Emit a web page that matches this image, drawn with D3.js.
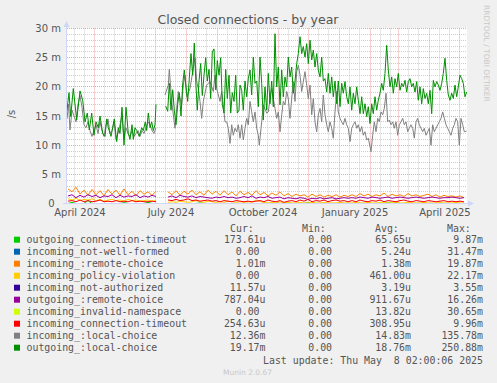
<!DOCTYPE html>
<html><head><meta charset="utf-8">
<script src="https://cdn.jsdelivr.net/npm/d3@7"></script>
<style>
html,body{margin:0;padding:0;background:#F0F0F0;}
svg{display:block;}
</style></head><body>
<svg id="c" width="497" height="383"></svg>
<script>
// ---------------- data ----------------
const chartTitle = "Closed connections - by year";
const yAxisLabel = "/s";
const yTickValues = [0, 5, 10, 15, 20, 25, 30];
const yTickLabels = ["0", "5 m", "10 m", "15 m", "20 m", "25 m", "30 m"];
const xTickMonths = ["2024-04-01", "2024-07-01", "2024-10-01", "2025-01-01", "2025-04-01"];
const xTickLabels = ["April 2024", "July 2024", "October 2024", "January 2025", "April 2025"];

const legendNames = [
  "outgoing_connection-timeout", "incoming_not-well-formed", "incoming_:remote-choice",
  "incoming_policy-violation", "incoming_not-authorized", "outgoing_:remote-choice",
  "incoming_invalid-namespace", "incoming_connection-timeout", "incoming_:local-choice",
  "outgoing_:local-choice"];
const legendColors = ["#00CC00", "#0066B3", "#FF8000", "#FFCC00", "#330099", "#990099",
  "#CCFF00", "#FF0000", "#808080", "#008F00"];
const curVals = ["173.61u", "0.00", "1.01m", "0.00", "11.57u", "787.04u", "0.00", "254.63u", "12.36m", "19.17m"];
const minVals = ["0.00", "0.00", "0.00", "0.00", "0.00", "0.00", "0.00", "0.00", "0.00", "0.00"];
const avgVals = ["65.65u", "5.24u", "1.38m", "461.00u", "3.19u", "911.67u", "13.82u", "308.95u", "14.83m", "18.76m"];
const maxVals = ["9.87m", "31.47m", "19.87m", "22.17m", "3.55m", "16.26m", "30.65m", "9.96m", "135.78m", "250.88m"];
const lastUpdate = "Last update: Thu May  8 02:00:06 2025";

// small series: one value every 4 days (milli-connections/s), null = no data
const outConnTimeout = [0,0.2,0,0,0,0.5,0,0,0,0,0,0,0,0,0.15,0,0,0,0,0,0.2,0,0,null,null,0,0,0,0,0,0,0,0,0.1,0,0,0,0,0,0,0,0,0,0,0,0,0,0,0,0,0,0,0,0,0,0,0,0,0,0,0.15,0,0,0,0,0,0,0,0,0,0,0,0,0,0,0,0,0,0,0,0.2,0,0.15,0,0,0,0,0,0,0,0,0,0,0,0,0,0,0,0,0];
const inNotWellFormed = [0,0,0,0,0,0,0,0,0,0,0,0,0,0,0,0,0,0,0,0,0,0,0,null,null,0,0,0,0,0,0,0,0,0,0,0,0,0,0,0,0,0,0,0,0,0,0,0,0,0,0,0,0,0,0,0,0,0,0,0,0,0,0,0,0,0,0,0,0,0,0,0,0,0,0,0,0,0,0,0,0,0,0,0,0,0,0,0,0,0,0,0,0,0,0,0,0,0,0,0];
const inRemoteChoice = [2.5,2.0,2.8,1.6,2.3,1.4,2.4,1.5,2.2,1.3,2.4,1.6,2.3,1.4,2.5,1.5,2.1,1.3,2.2,1.6,2.0,1.4,2.1,null,null,
  2.0,1.5,2.2,1.4,2.1,1.6,2.3,1.5,2.0,1.4,2.3,1.6,2.1,1.4,2.2,1.5,2.0,1.3,2.1,1.5,1.9,
  1.4,2.2,1.5,1.9,1.3,1.8,1.4,2.0,1.3,1.7,1.2,1.6,1.3,1.5,1.1,1.6,1.2,1.5,1.1,1.4,1.2,1.5,1.1,1.4,1.2,
  1.5,1.2,1.7,1.3,1.6,1.2,1.5,1.3,1.8,1.2,1.6,1.3,1.5,1.2,1.7,1.3,1.5,1.2,1.4,1.6,1.2,1.5,1.1,1.4,1.2,1.3,1.1,1.3,1.0];
const inPolicyViolation = [0.8,0.6,0.9,0.5,0.7,0.6,0.8,0.5,0.7,0.4,0.6,0.7,0.5,0.6,0.4,0.7,0.5,0.6,0.4,0.5,0.6,0.4,0.5,null,null,
  0.2,0.3,0.2,0.4,0.3,0.2,0.3,0.5,0.3,0.2,0.4,0.3,0.2,0.3,0.2,0.4,0.3,0.2,0.3,0.2,0.3,
  0.2,0.6,0.3,0.2,0.1,0.2,0.1,0.3,0.1,0.2,0.1,0.1,0.2,0.1,0.1,0.2,0.1,0.1,0.2,0.1,0.1,0.1,0.2,0.1,0.1,
  0.1,0.2,0.1,0.1,0.2,0.1,0.1,0.2,0.1,0.1,0.1,0.2,0.1,0.1,0.2,0.1,0.1,0.1,0.2,0.1,0.1,0.1,0.2,0.1,0.1,0.1,0.2,0.1,0.1];
const inNotAuthorized = [0,0,0,0,0,0,0,0,0,0,0,0,0,0,0,0,0,0,0,0,0,0,0,null,null,0,0,0,0,0,0,0,0,0,0,0,0,0,0,0,0,0,0,0,0,0,0,0,0,0,0,0,0,0,0,0,0,0,0,0,0,0,0,0,0,0,0,0,0,0,0,0,0,0,0,0,0,0,0,0,0,0,0,0,0,0,0,0,0,0,0,0,0,0,0,0,0,0,0,0];
const outRemoteChoice = [1.3,1.5,1.0,1.4,1.1,1.5,1.2,1.4,1.0,1.3,1.2,1.5,1.0,1.4,1.1,1.3,1.2,1.5,1.0,1.3,1.1,1.4,1.2,null,null,
  1.1,1.3,1.0,1.4,1.2,1.1,1.3,1.0,1.2,1.1,1.0,0.9,1.1,1.0,1.2,1.0,1.1,0.9,1.0,1.2,1.0,
  1.3,0.9,1.1,1.0,1.2,0.9,1.0,1.1,0.8,1.0,0.9,0.8,1.0,0.9,0.7,0.9,0.8,1.0,0.8,0.9,1.0,0.8,0.9,1.0,0.9,
  1.0,0.9,1.1,1.0,0.9,1.1,1.0,0.9,1.0,1.1,0.9,1.0,1.1,1.0,0.9,1.0,1.1,1.0,0.9,1.0,1.1,1.0,0.9,1.0,1.0,1.1,1.0,0.9,1.0];
const inInvalidNamespace = [0,0,0,0,0,0,0,0,0,0,0,0,0,0,0,0,0,0,0,0,0,0,0,null,null,0,0,0,0,0,0,0,0,0,0,0,0,0,0,0,0,0,0,0,0,0,0,0,0,0,0,0,0,0,0,0,0,0,0,0,0,0,0,0,0,0,0,0,0,0,0,0,0,0,0,0,0,0,0.1,0,0.1,0,0,0,0,0,0,0,0,0,0,0,0,0,0,0,0,0,0,0];
const inConnTimeout = [0.4,0.5,0.3,0.6,0.3,0.5,0.3,0.4,0.6,0.3,0.4,0.3,0.5,0.3,0.4,0.3,0.5,0.3,0.4,0.3,0.3,0.4,0.3,null,null,
  0.6,0.5,0.7,0.5,0.6,0.8,0.5,0.6,0.4,0.5,0.6,0.4,0.5,0.3,0.5,0.4,0.3,0.5,0.4,0.3,0.4,
  0.3,0.4,0.5,0.3,0.6,0.4,0.3,0.5,0.2,0.4,0.5,0.3,0.6,0.4,0.7,0.3,0.5,0.4,0.6,0.3,0.5,0.6,0.4,0.5,0.3,
  0.5,0.3,0.6,0.4,0.3,0.5,0.4,0.6,0.3,0.5,0.4,0.3,0.5,0.6,0.4,0.3,0.5,0.4,0.3,0.5,0.4,0.3,0.4,0.5,0.3,0.4,0.3,0.4,0.3];

// big series: [day since start of graph, value in m/s]
const inLocalChoice = [
[0,14.5],[1.5,17],[3,12.6],[5,16],[7,15],[9,14],[11,17],[13,18.5],[15,16.5],[17,13.5],[19,13],[21,14],[23,12.5],[25,11.5],[27,12.5],[29,13.5],[31,12],[33,14],[35,12.5],[37,11.5],[39,13.5],[41,14.5],[43,12],[45,12.5],[47,14],[49,11],[51,12],[53,13.5],[55,15],[57,11],[59,13],[61,12],[63,11.5],[65,12.5],[67,11.5],[69,12],[71,12.5],[73,11.5],[75,12.5],[77,12],[79,13],[81,14],[83,13.5],[85,12.5],[87,12],[89,13],[90,null],
[98,18.6],[101.3,20.3],[102.3,23],[104.7,17.5],[108,12.9],[109.7,16.3],[111.3,19.2],[114.7,16.9],[116.3,20.3],[118,22],[119.7,18.3],[123,19.7],[126.3,23.2],[128,24.9],[129.7,20.9],[131.3,19.7],[133,17.5],[134.7,14.6],[136.3,17.5],[139.7,20.3],[143,20.9],[146.3,19.2],[148,22],[149.7,19.7],[153,17.5],[154.7,19.2],[156.3,16.9],[158,14],[159.7,14],[161.3,12.9],[163,10.3],[164.7,13.5],[166.3,11.7],[168,12.9],[169.7,12.3],[171.3,13.5],[173,11.2],[174.7,13.5],[176.3,10.9],[178,12.9],[179.7,14.6],[181.3,13.5],[183,17.5],[184.7,15.7],[186.3,14],[188,15.7],[189.7,12.9],[191.3,11.7],[192.3,10],[194.7,14],[196.3,16.9],[199.7,15.5],[201.3,15.7],[203,18],[204.7,19.7],[206.3,18],[208,16.3],[209.7,14.6],[211.3,15.7],[213,12.3],[214.7,15.2],[216.3,17.5],[218,16.9],[219.7,19.2],[221.3,18],[223,14.6],[224.7,18],[226.3,20.9],[228,17.5],[229.7,22.6],[231.3,23.7],[233,22],[234.7,19.2],[236.3,20.9],[238,22.6],[239.7,20.3],[241.3,18],[243,20.3],[244.7,15.2],[246.3,18],[248,14],[249.7,12.3],[251.3,15.2],[253,16.3],[254.7,14],[256.3,18.6],[258,15.2],[259.7,13.5],[261.3,12.3],[263,14],[264.7,12.9],[266.3,11.2],[268,15.7],[269.7,19.2],[271.3,15.7],[273,14.6],[274.7,14],[276.3,13.5],[278,14.6],[279.7,13.5],[281.3,12.9],[283,10.6],[284.7,12.9],[286.3,13.5],[288,14],[289.7,12.9],[291.3,13.5],[293,12.3],[294.7,13.2],[296.3,11.7],[298,12.3],[299.7,10.9],[301.3,11.2],[304,8.9],[305.7,11.7],[307.3,14],[309,12.3],[310.7,14.6],[312.3,14],[314,15.7],[315.7,15.2],[317.3,16.3],[319,18.9],[320.7,14],[322.3,14.3],[324,13.5],[325.7,14],[327.3,12.9],[329,14],[330.7,11.7],[332.3,13.5],[334,14],[335.7,14.6],[337.3,13.5],[339,14],[340.7,12.3],[342.3,12.9],[344,13.5],[345.7,12.9],[347.3,11.2],[349,14],[350.7,14.6],[352.3,13.5],[354,12.9],[355.7,12.3],[357.3,12.9],[359,11.7],[360.7,12.3],[362.3,12.9],[364,10],[365.7,13.5],[367.3,12.3],[369,12.9],[370.7,13.5],[372.3,14],[374,14.6],[375.7,15.7],[377.3,14.6],[379,13.5],[380.7,12.9],[382.3,12.3],[384,11.7],[385.7,12.9],[387.3,13.5],[389,14.6],[390.7,14],[392.3,10],[394,14.6],[395.7,13.5],[397.3,12.3],[399.5,12.4]
];
const outLocalChoice = [
[0,16],[2,19],[3.7,14.9],[6.3,19.7],[9.7,14.3],[13,19.3],[15.7,17.7],[18,14],[20.3,15.5],[22.3,12.6],[24.7,15.5],[27,11.7],[29,14],[31.3,13],[33,15],[35.7,12],[38,11.5],[39.7,14.5],[41.3,13],[44,11.5],[45.7,13],[47.3,14.5],[49.7,10.6],[51.3,13],[53,12],[55,16.5],[57,10],[59,16.5],[61.3,12],[63,11],[65,13.5],[66.3,11],[68,13],[69.7,12.5],[72.3,11.5],[74.7,13],[76.3,12.5],[78.3,14],[79.7,12.5],[81.3,15.5],[83,13],[84.7,14],[86.3,12.5],[88,13.5],[89,17],[90,null],
[98.7,16.7],[100.7,15.8],[102.3,20.6],[104,16],[105.7,19.5],[107.3,16],[109,13.5],[110.7,17],[112.3,19],[114,15],[115.7,20.5],[117.3,22.9],[119,20],[120.7,17.5],[122.3,21.5],[124,25.7],[125.7,22],[127.3,27.5],[129,20],[130.3,16],[132,21],[133.7,24],[135.3,18.5],[137,22],[138.7,25],[140.3,21],[142,23],[143.7,18],[145.3,26],[147,26.5],[148.7,19.5],[150.3,24.5],[152,22],[153.7,25],[155.3,17],[157,15.5],[158.7,23],[160.3,18],[162,22],[163.7,15.5],[165.3,19],[167,17.5],[168.7,22],[170.3,15.5],[172,16],
[173,20.3],[174.7,19.4],[176.3,16],[178,21],[179.7,18.3],[181.3,21.4],[183,22.9],[184.7,18.6],[186.3,25.1],[188,20.6],[189.7,21],[191.3,16.6],[193,25.1],[194.7,20.6],[196.3,14.3],[198,20],[199.7,16],[201.3,22.3],[203,17.1],[204.7,21],[206.3,16.6],[208,29.1],[209.7,20],[211.3,23.4],[213,16.9],[214.7,22.9],[216.3,18.3],[218,21.7],[219.7,20],[221.3,25.1],[223,21.7],[224.7,23.4],[226.3,18.9],[228,21],[229.7,24],[231.3,25.7],[233,28.6],[234.7,25.7],[236.3,26.9],[238,25.1],[239.7,27.4],[241.3,24],[243,28],[244.7,24.6],[246.3,26.3],[248,23.4],[249.7,25.7],[251.3,22.9],[253,21.7],[254.7,25.1],[256.3,21],[258,21.4],[259.7,19.1],[261.3,22.3],[263,18.9],[264.7,21.7],[266.3,18.3],[268,21],[269.7,17.1],[271.3,21],[273,16.6],[274.7,20.6],[276.3,18.9],[278,20.9],[279.7,18.3],[281.3,17.1],[283,20],[284.7,16],[286.3,18.9],[288,17.1],[289.7,20],[291.3,17.7],[293,15.4],[294.7,18.3],[296.3,15.4],[298,17.1],[299.7,14.9],[301.3,16.6],[303,13.7],[304.7,17.1],[306.3,15.4],[308,18.3],[309.7,16],[311.3,17.7],[313,18.9],[314.7,20.6],[316.3,19.4],[318,22.3],[319.7,27.1],[321.3,22.9],[323,20],[324.7,21.7],[326.3,18.9],[328,21.4],[329.7,20],[331.3,22.3],[333,19.4],[334.7,20.6],[336.3,20],[338,21.1],[339.7,19.1],[341.3,20.9],[343,21.4],[344.7,20],[346.3,20.6],[348,19.1],[349.7,20.9],[351.3,17.7],[353,20],[354.7,17.1],[356.3,19.7],[358,18],[359.7,18.9],[361.3,17.1],[363,19.4],[364.7,15.4],[366.3,21.1],[368,20],[369.7,20.9],[371.3,20.3],[373,19.4],[374.7,20.6],[376.3,22.3],[378,24.9],[379.7,21.1],[381.3,18.6],[383,17.7],[384.7,18.9],[386.3,18],[388,20.3],[389.7,18.3],[391.3,20],[393,22],[394.7,21.4],[396.3,20.6],[398,18.3],[399.7,19.1]
];

// ---------------- drawing ----------------
const svg = d3.select("#c");
const MS_DAY = 86400000;
const endTime = Date.UTC(2025, 4, 8, 0, 0, 6);
const startTime = endTime - 400 * MS_DAY;
const x = d3.scaleUtc().domain([new Date(startTime), new Date(endTime)]).range([67, 467]);
const y = d3.scaleLinear().domain([0, 30]).range([203.5, 28.5]);
const dayDate = d => new Date(startTime + d * MS_DAY);
const px = v => Math.round(v - 0.5) + 0.5;
const FONT = "DejaVu Sans, sans-serif";
const MONO = "DejaVu Sans Mono, monospace";
const TXT = "#555";

svg.append("rect").attr("width", 497).attr("height", 383).attr("fill", "#F0F0F0");
svg.append("rect").attr("x", 67).attr("y", 28).attr("width", 400).attr("height", 176).attr("fill", "#FFFFFF");

const grid = svg.append("g");
d3.range(1, 31).forEach(v => {
  const major = yTickValues.includes(v);
  grid.append("line").attr("x1", 67).attr("x2", 467).attr("y1", px(y(v))).attr("y2", px(y(v)))
    .attr("stroke", major ? "#EBA3A3" : "#CFCFCF").attr("stroke-dasharray", "1,1");
});
const months = d3.utcMonth.range(d3.utcMonth.floor(new Date(startTime)), new Date(endTime));
months.forEach(m => {
  [10, 20].forEach(off => {
    const d = new Date(m.getTime() + off * MS_DAY);
    if (d > new Date(startTime) && d < new Date(endTime))
      grid.append("line").attr("x1", px(x(d))).attr("x2", px(x(d))).attr("y1", 28.5).attr("y2", 203.5)
        .attr("stroke", "#CFCFCF").attr("stroke-dasharray", "1,1");
  });
  if (m > new Date(startTime))
    grid.append("line").attr("x1", px(x(m))).attr("x2", px(x(m))).attr("y1", 28.5).attr("y2", 203.5)
      .attr("stroke", "#EBA3A3").attr("stroke-dasharray", "1,1");
});

// series
const smallSeries = [outConnTimeout, inNotWellFormed, inRemoteChoice, inPolicyViolation, inNotAuthorized,
  outRemoteChoice, inInvalidNamespace, inConnTimeout];
const toPairs = arr => arr.map((v, i) => [i * 4 + 1, v]);
const allSeries = smallSeries.map(toPairs).concat([inLocalChoice, outLocalChoice]);
const line = d3.line().defined(d => d[1] != null).x(d => x(dayDate(d[0]))).y(d => y(d[1]));
allSeries.forEach((s, i) => {
  svg.append("path").datum(s).attr("d", line).attr("fill", "none")
    .attr("stroke", legendColors[i]).attr("stroke-width", 1);
});

// axes
const AX = "#CFD6F8";
svg.append("line").attr("x1", 66.5).attr("x2", 66.5).attr("y1", 204).attr("y2", 24).attr("stroke", AX);
svg.append("path").attr("d", "M63.5,27 L66.5,21 L69.5,27 Z").attr("fill", AX);
svg.append("line").attr("x1", 63).attr("x2", 471).attr("y1", 203.5).attr("y2", 203.5).attr("stroke", AX);
svg.append("path").attr("d", "M468,200.5 L474,203.5 L468,206.5 Z").attr("fill", AX);

// y tick labels (the unitless "0" keeps rrdtool's blank unit padding)
yTickValues.forEach((v, i) => {
  const lbl = yTickLabels[i];
  const pad = /[a-z]$/i.test(lbl) ? 0 : 6.5;
  svg.append("text").attr("x", 61 - pad).attr("y", y(v) + 3.5).attr("text-anchor", "end")
    .attr("font-family", FONT).attr("font-size", 10).attr("fill", TXT).text(lbl);
});
// x tick labels (centred in middle of month)
xTickMonths.forEach((m, i) => {
  const d = new Date(Date.parse(m + "T00:00:00Z") + 15 * MS_DAY);
  svg.append("text").attr("x", x(d)).attr("y", 216).attr("text-anchor", "middle")
    .attr("font-family", FONT).attr("font-size", 10).attr("fill", TXT).text(xTickLabels[i]);
});

svg.append("text").attr("x", 248).attr("y", 23.5).attr("text-anchor", "middle")
  .attr("font-family", FONT).attr("font-size", 12.5).attr("fill", TXT).text(chartTitle);
svg.append("text").attr("transform", "translate(15,114) rotate(-90)").attr("text-anchor", "middle")
  .attr("font-family", FONT).attr("font-size", 10).attr("fill", TXT).text(yAxisLabel);
svg.append("text").attr("transform", "translate(484,5) rotate(90)").attr("text-anchor", "start")
  .attr("font-family", FONT).attr("font-size", 7.5).attr("fill", "#C8C8C8").text("RRDTOOL / TOBI OETIKER");

// legend
const headers = [["Cur:", 230], ["Min:", 302], ["Avg:", 375], ["Max:", 447]];
headers.forEach(h => svg.append("text").attr("x", h[1]).attr("y", 231.5)
  .attr("font-family", MONO).attr("font-size", 9.9).attr("fill", TXT).text(h[0]));
const colEnds = [265.5, 338, 411, 483];
const CW = 5.96;
legendNames.forEach((n, i) => {
  const cy = 239.7 + 12 * i;
  svg.append("rect").attr("x", 14).attr("y", cy - 3).attr("width", 6).attr("height", 6).attr("fill", legendColors[i]);
  svg.append("text").attr("x", 26.5).attr("y", cy + 3.5).attr("font-family", MONO).attr("font-size", 9.9)
    .attr("fill", TXT).text(n);
  [curVals[i], minVals[i], avgVals[i], maxVals[i]].forEach((v, j) => {
    const hasUnit = /[a-z]$/i.test(v);
    svg.append("text").attr("x", colEnds[j] - (hasUnit ? 0 : CW)).attr("y", cy + 3.5)
      .attr("text-anchor", "end").attr("font-family", MONO).attr("font-size", 9.9).attr("fill", TXT).text(v);
  });
});
svg.append("text").attr("x", 483).attr("y", 363.5).attr("text-anchor", "end").attr("xml:space", "preserve")
  .style("white-space", "pre").attr("font-family", MONO).attr("font-size", 9.9).attr("fill", TXT).text(lastUpdate);
svg.append("text").attr("x", 247.5).attr("y", 374.5).attr("text-anchor", "middle")
  .attr("font-family", FONT).attr("font-size", 7.5).attr("fill", "#C8C8C8").text("Munin 2.0.67");
</script>
</body></html>
